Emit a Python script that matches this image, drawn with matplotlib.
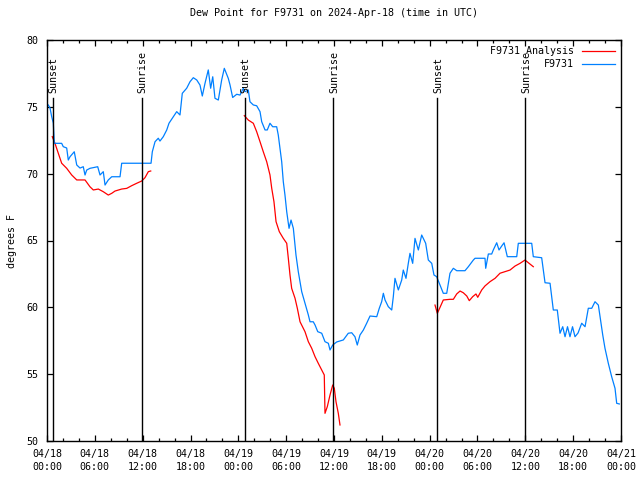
import matplotlib
matplotlib.use("Agg")
import matplotlib.pyplot as plt
from matplotlib.ticker import FixedLocator, MultipleLocator

plt.rcParams['font.family'] = ['DejaVu Sans Mono']

title = "Dew Point for F9731 on 2024-Apr-18 (time in UTC)"

# hours since 2024-04-18 00:00 UTC
obs_hours = [0.16, 0.38, 0.59, 0.79, 0.92, 1.84, 2.04, 2.47, 2.67, 2.89, 3.42, 3.73, 4.14, 4.55, 4.77,
             4.98, 5.39, 6.36, 6.65, 7.06, 7.28, 7.69, 8.12, 9.16, 9.37, 13.05, 13.21, 13.55, 13.96,
             14.17, 14.59, 15.02, 15.30, 15.84, 16.27, 16.68, 16.97, 17.52, 17.94, 18.35, 18.78,
             19.19, 19.48, 19.82, 20.23, 20.53, 20.79, 21.07, 21.49, 21.91, 22.24, 22.74, 22.96,
             23.29, 23.80, 24.21, 24.62, 24.84, 25.25, 25.46, 25.88, 26.30, 26.72, 26.93, 27.35,
             27.63, 27.97, 28.31, 28.81, 29.01, 29.44, 29.64, 29.85, 30.07, 30.36, 30.61, 30.90,
             31.23, 31.52, 31.95, 32.36, 32.78, 32.99, 33.40, 33.62, 33.96, 34.46, 34.87, 35.29,
             35.50, 35.84, 36.34, 37.17, 37.79, 38.22, 38.63, 38.92, 39.26, 39.68, 40.10, 40.52,
             41.36, 41.68, 41.98, 42.19, 42.40, 42.81, 43.24, 43.44, 43.65, 44.07, 44.49, 44.69,
             45.03, 45.32, 45.53, 45.87, 46.16, 46.58, 47.00, 47.50, 47.83, 48.26, 48.54, 48.88,
             49.21, 49.71, 50.14, 50.55, 50.97, 51.40, 52.43, 52.85, 53.48, 53.69, 54.94, 55.03,
             55.36, 55.78, 55.98, 56.41, 56.70, 57.04, 57.33, 57.74, 58.92, 59.12, 60.80, 61.00,
             62.05, 62.47, 63.10, 63.51, 64.01, 64.35, 64.69, 64.98, 65.29, 65.60, 65.92, 66.23,
             66.61, 67.07, 67.49, 67.90, 68.33, 68.74, 69.16, 69.37, 69.71, 69.99, 70.41, 70.83,
             71.25, 71.46, 71.79]
obs_values = [75.14, 74.91, 74.26, 73.79, 72.27, 72.27, 72.02, 71.92, 71.02, 71.27, 71.64, 70.65, 70.42,
              70.52, 69.90, 70.27, 70.40, 70.52, 69.90, 70.15, 69.15, 69.53, 69.77, 69.77, 70.78,
              70.78, 71.64, 72.39, 72.65, 72.44, 72.77, 73.27, 73.77, 74.26, 74.64, 74.39, 76.01,
              76.39, 76.88, 77.18, 77.01, 76.63, 75.81, 76.76, 77.76, 76.39, 77.25, 75.64, 75.51,
              77.01, 77.88, 77.13, 76.63, 75.70, 75.94, 75.88, 76.39, 76.13, 76.26, 75.38, 75.14,
              75.08, 74.64, 73.89, 73.27, 73.27, 73.77, 73.51, 73.51, 72.89, 70.89, 69.40, 68.40,
              67.15, 65.91, 66.53, 65.91, 63.92, 62.67, 61.17, 60.30, 59.43, 58.92, 58.92, 58.68,
              58.18, 58.06, 57.43, 57.31, 56.81, 57.18, 57.41, 57.56, 58.06, 58.10, 57.80, 57.18,
              57.93, 58.30, 58.81, 59.35, 59.30, 59.93, 60.42, 61.05, 60.55, 60.05, 59.80, 60.80,
              62.17, 61.30, 62.04, 62.79, 62.17, 63.29, 64.04, 63.29, 65.16, 64.29, 65.41, 64.79,
              63.54, 63.29, 62.42, 62.29, 61.80, 61.05, 61.05, 62.55, 62.92, 62.74, 62.74, 63.04,
              63.54, 63.67, 63.67, 62.92, 63.99, 63.99, 64.29, 64.83, 64.29, 64.59, 64.83, 63.79,
              63.79, 64.79, 64.79, 63.79, 63.71, 61.84, 61.80, 59.80, 59.80, 58.06, 58.55, 57.80,
              58.55, 57.80, 58.55, 57.80, 58.08, 58.81, 58.55, 59.93, 59.93, 60.42, 60.17, 59.30,
              57.93, 56.94, 55.81, 54.81, 53.94, 52.82, 52.77]

ana1_hours = [0.66, 1.00, 1.42, 1.84, 2.47, 3.10, 3.73, 4.77, 5.39, 5.81, 6.44, 7.06, 7.69, 8.12, 8.53,
              9.37, 10.00, 10.62, 11.25, 11.88, 12.29, 12.71, 13.01]
ana1_values = [72.77, 72.27, 71.52, 70.78, 70.40, 69.90, 69.53, 69.53, 69.02, 68.78, 68.85, 68.65, 68.40,
               68.53, 68.70, 68.85, 68.90, 69.10, 69.28, 69.45, 69.70, 70.15, 70.20]
ana2_hours = [24.75, 25.25, 25.88, 26.30, 26.72, 27.13, 27.56, 27.97, 28.19, 28.47, 28.73, 29.14, 29.64,
              30.07, 30.27, 30.48, 30.69, 31.11, 31.40, 31.74, 32.36, 32.78, 33.20, 33.62, 34.03,
              34.46, 34.78, 34.87, 35.16, 35.50, 35.84, 36.04, 36.25, 36.54, 36.75]
ana2_values = [74.34, 74.01, 73.77, 73.14, 72.39, 71.64, 70.89, 69.90, 68.90, 67.90, 66.41, 65.66, 65.16,
               64.79, 63.67, 62.42, 61.42, 60.68, 59.93, 58.92, 58.18, 57.43, 56.94, 56.31, 55.81,
               55.31, 54.94, 52.07, 52.57, 53.44, 54.19, 53.94, 52.94, 52.07, 51.20]
ana3_hours = [48.67, 48.96, 49.30, 49.71, 50.55, 50.97, 51.39, 51.81, 52.22, 52.65, 52.97, 53.40, 53.81,
              54.03, 54.53, 54.94, 55.57, 56.20, 56.82, 57.45, 58.08, 58.71, 59.33, 59.96, 60.37, 61.00]
ana3_values = [60.17, 59.55, 60.00, 60.55, 60.60, 60.60, 61.00, 61.22, 61.09, 60.85, 60.50, 60.80, 61.00,
               60.75, 61.30, 61.60, 61.92, 62.17, 62.55, 62.67, 62.79, 63.09, 63.29, 63.54, 63.34, 63.04]

sun_hours = [0.75, 11.92, 24.84, 35.92, 48.95, 60.0]
sun_labels = ["Sunset", "Sunrise", "Sunset", "Sunrise", "Sunset", "Sunrise"]

xtick_hours = [0, 6, 12, 18, 24, 30, 36, 42, 48, 54, 60, 66, 72]
xtick_labels = ["04/18\n00:00", "04/18\n06:00", "04/18\n12:00", "04/18\n18:00",
                "04/19\n00:00", "04/19\n06:00", "04/19\n12:00", "04/19\n18:00",
                "04/20\n00:00", "04/20\n06:00", "04/20\n12:00", "04/20\n18:00",
                "04/21\n00:00"]
yticks = [50, 55, 60, 65, 70, 75, 80]

RED = '#ff0000'
BLUE = '#0080ff'

fig = plt.figure(figsize=(6.4, 4.8), dpi=100)
ax = fig.add_axes([47/640, 39/480, 574/640, 401/480])

for i, (h, y) in enumerate([(ana1_hours, ana1_values), (ana2_hours, ana2_values), (ana3_hours, ana3_values)]):
    ax.plot(h, y, color=RED, lw=0.9, label='F9731 Analysis' if i == 0 else None)
ax.plot(obs_hours, obs_values, color=BLUE, lw=0.9, label='F9731')

for h, lab in zip(sun_hours, sun_labels):
    ax.plot([h, h], [50, 75.66], color='black', lw=1.0)
    ax.text(h + 0.1, 76.0, lab, rotation=90, ha='center', va='bottom', fontsize=7.2)

ax.set_xlim(0, 72)
ax.set_ylim(50, 80)
ax.xaxis.set_major_locator(FixedLocator(xtick_hours))
ax.set_xticklabels(xtick_labels, linespacing=1.35)
ax.xaxis.set_minor_locator(MultipleLocator(2))
ax.set_yticks(yticks)
ax.tick_params(axis='both', which='major', direction='in', length=4, width=0.9,
               top=True, right=True, labelsize=7.2, pad=6)
ax.tick_params(axis='x', which='minor', direction='in', length=2.2, width=0.9, top=True)
for s in ax.spines.values():
    s.set_linewidth(1.0)

ax.set_ylabel('degrees F', fontsize=7.2, labelpad=7)
ax.set_title(title, fontsize=7.2, pad=17)

leg = ax.legend(loc='upper right', frameon=False, fontsize=7.2, markerfirst=False,
                handlelength=3.3, borderaxespad=0.25, labelspacing=0.3, handletextpad=0.8)
for t in leg.get_texts():
    t.set_ha('right')

fig.savefig('out.png', dpi=100)
